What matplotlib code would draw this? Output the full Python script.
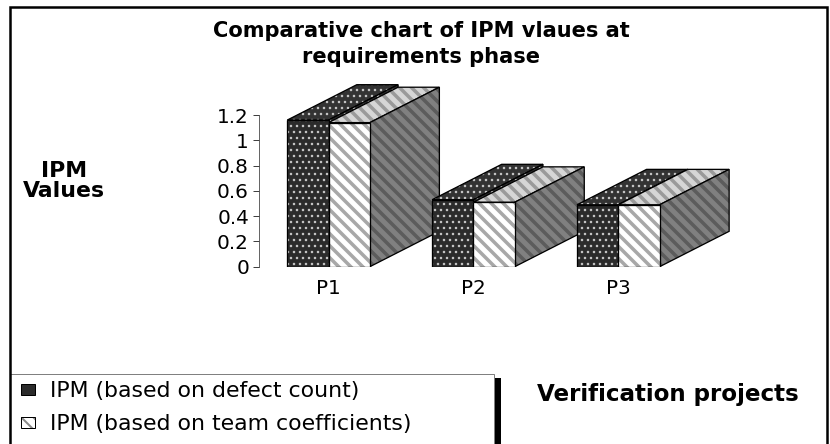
import numpy as np
import matplotlib
matplotlib.use('Agg')
import matplotlib.pyplot as plt
from matplotlib.patches import Polygon, Patch, Rectangle
from matplotlib.legend_handler import HandlerTuple

######################## DATA ##################################################
projects = ['P1', 'P2', 'P3']
ipm_defect = [1.16, 0.53, 0.49]   # IPM (based on defect count)
ipm_team = [1.14, 0.51, 0.49]     # IPM (based on team coefficients)
series_labels = ['IPM (based on defect count)', 'IPM (based on team coefficients)']
yticks = [0, 0.2, 0.4, 0.6, 0.8, 1, 1.2]
ytick_labels = ['0', '0.2', '0.4', '0.6', '0.8', '1', '1.2']
################################################################################

W, H, dpi = 830, 444, 72
bw = 0.285          # width of one bar (category units)
ddx, ddy = 0.48, 0.28   # 3D depth offset (x units, value units)

# face styles: facecolor, hatch colour, hatch, hatch linewidth
DARK = ('#2b2b2b', '#c4c4c4', '..', 1.3)
DARK_TOP = ('#333333', '#c4c4c4', '..', 1.3)
WHITE = ('white', '#a8a8a8', '\\\\', 3.5)
WHITE_TOP = ('#d6d6d6', '#9a9a9a', '\\\\', 3.5)
SIDE = ('#808080', '#5c5c5c', '\\\\', 3.5)

fig = plt.figure(figsize=(W / dpi, H / dpi), dpi=dpi)
ax = fig.add_axes([259 / W, (H - 266.7) / H, 481 / W, 1.6 * 126.4 / H])
ax.set_xlim(-0.48, 2.84)
ax.set_ylim(0, 1.6)


def face(verts, style):
    fc, hc, hatch, hlw = style
    plt.rcParams['hatch.linewidth'] = hlw
    p = Polygon(verts, closed=True, facecolor=fc, edgecolor=hc,
                linewidth=0, hatch=hatch)
    if hasattr(p, 'set_hatch_linewidth'):
        p.set_hatch_linewidth(hlw)
    ax.add_patch(p)
    ax.add_patch(Polygon(verts, closed=True, fill=False,
                         edgecolor='black', linewidth=1.3))


def top(x0, h, style):
    face([(x0, h), (x0 + bw, h), (x0 + bw + ddx, h + ddy), (x0 + ddx, h + ddy)], style)


def side(x0, h, style):
    face([(x0, 0), (x0 + ddx, ddy), (x0 + ddx, h + ddy), (x0, h)], style)


def front(x0, h, style):
    face([(x0, 0), (x0 + bw, 0), (x0 + bw, h), (x0, h)], style)


for i in range(len(projects)):
    h1, h2 = ipm_defect[i], ipm_team[i]
    x_dark, x_white = i - bw, i
    top(x_dark, h1, DARK_TOP)
    side(x_dark + bw, h1, DARK)
    top(x_white, h2, WHITE_TOP)
    side(x_white + bw, h2, SIDE)
    front(x_dark, h1, DARK)
    front(x_white, h2, WHITE)

# axes
for s in ['top', 'right', 'bottom']:
    ax.spines[s].set_visible(False)
ax.spines['left'].set_bounds(0, 1.2)
ax.spines['left'].set_color('#404040')
ax.set_yticks(yticks)
ax.set_yticklabels(ytick_labels)
ax.set_xticks(range(len(projects)))
ax.set_xticklabels(projects)
ax.tick_params(axis='y', labelsize=20, length=6, width=1, color='#404040', pad=4)
ax.tick_params(axis='x', labelsize=20, length=0, pad=12)
ax.set_facecolor('none')

# texts
fig.text(421 / W, 1 - 44 / H, 'Comparative chart of IPM vlaues at\nrequirements phase',
         ha='center', va='center', fontsize=21, fontweight='bold', linespacing=1.4)
fig.text(64 / W, 1 - 181 / H, 'IPM\nValues', ha='center', va='center',
         fontsize=22, fontweight='bold', linespacing=1.05)
fig.text(668 / W, 1 - 394 / H, 'Verification projects', ha='center', va='center',
         fontsize=23, fontweight='bold')

# outer chart border
fig.add_artist(Rectangle((10 / W, -0.05), 817 / W, 1.05 - 7 / H, transform=fig.transFigure,
                         fill=False, edgecolor='black', linewidth=2.5, zorder=-1))
# legend box (runs off the bottom edge) and its shadow
fig.add_artist(Rectangle((10 / W, -0.05), 484 / W, 0.05 + (H - 374) / H,
                         transform=fig.transFigure, facecolor='white',
                         edgecolor='#808080', linewidth=1, zorder=-2))
fig.add_artist(Rectangle((494.5 / W, -0.05), 6 / W, 0.05 + (H - 378) / H,
                         transform=fig.transFigure, facecolor='black',
                         edgecolor='none', zorder=-2))

# legend
h_dark = Patch(facecolor=DARK[0], edgecolor='black', linewidth=1)
plt.rcParams['hatch.linewidth'] = 2.0
h_white = Patch(facecolor='white', edgecolor='#8a8a8a', hatch='\\\\', linewidth=0)
if hasattr(h_white, 'set_hatch_linewidth'):
    h_white.set_hatch_linewidth(2.0)
h_white_ol = Patch(fill=False, edgecolor='black', linewidth=1)
leg = ax.legend([h_dark, (h_white, h_white_ol)], series_labels,
                handler_map={tuple: HandlerTuple(ndivide=1)},
                loc='upper left', bbox_to_anchor=(10 / W, 1 - 370 / H, 484 / W, 0),
                bbox_transform=fig.transFigure, borderaxespad=0,
                fontsize=22, handlelength=0.65, handleheight=0.4, handletextpad=0.67,
                labelspacing=0.6, borderpad=0.5, frameon=False)

fig.savefig('out.png', dpi=dpi)
